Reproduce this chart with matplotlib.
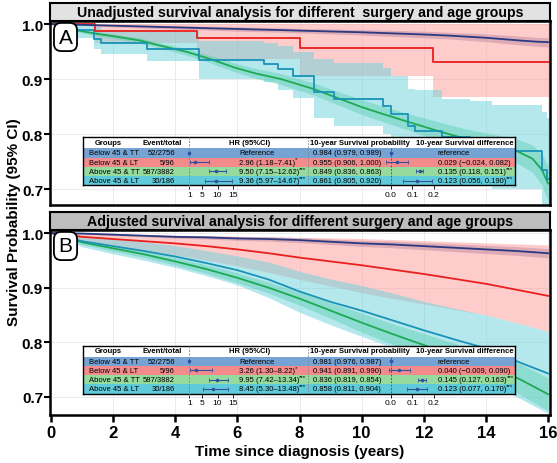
import matplotlib
matplotlib.use("Agg")
import matplotlib.pyplot as plt
import numpy as np

plt.rcParams['font.family'] = ['Liberation Sans', 'DejaVu Sans']

# ---------------- data ----------------
groups = ["Below 45 & TT", "Below 45 & LT", "Above 45 & TT", "Above 45 & LT"]
events = ["52/2756", "5/96", "587/3882", "30/186"]
line_colors = ["#2B3A80", "#E8201E", "#1DAA52", "#1A93B8"]
fill_colors = ["#7A7AA8", "#FF9A9A", "#3CC47A", "#6AD3DC"]
fill_alpha = [0.5, 0.5, 0.4, 0.5]
row_colors = ["#74A3D4", "#F38B8C", "#94DB9D", "#5FCAD9"]

# panel A: unadjusted Kaplan-Meier
navy_a_t = [0, 2, 4, 6, 7.4, 8, 10, 12, 12.8, 14, 15.1, 15.6, 16]
navy_a_s = [1.0, 0.997, 0.994, 0.991, 0.989, 0.988, 0.985, 0.981, 0.979, 0.975, 0.970, 0.968, 0.967]
navy_a_lo = [1.0, 0.995, 0.991, 0.987, 0.985, 0.984, 0.980, 0.975, 0.973, 0.968, 0.962, 0.960, 0.958]
navy_a_hi = [1.0, 0.999, 0.997, 0.995, 0.993, 0.992, 0.990, 0.987, 0.985, 0.982, 0.978, 0.976, 0.975]

red_a_t = [0, 1.42, 4.7, 8.03, 12.3, 16.1]
red_a_s = [1.0, 0.988, 0.974, 0.956, 0.931, 0.931]
red_a_lo = [1.0, 0.965, 0.936, 0.906, 0.867, 0.867]
red_a_hi = [1.0, 1.0, 1.0, 1.0, 1.0, 1.0]

green_a_t = [0, 0.5, 0.9, 1.5, 2.0, 2.87, 3.5, 4.4, 5.2, 5.9, 6.6, 7.4, 8.45, 9.2, 10.0,
             10.6, 11.5, 12.55, 13.3, 14.0, 15.0, 15.5, 15.8, 16.0]
green_a_s = [1.0, 0.995, 0.988, 0.982, 0.978, 0.970, 0.961, 0.949, 0.935, 0.921, 0.910, 0.900,
             0.882, 0.866, 0.849, 0.838, 0.822, 0.804, 0.792, 0.783, 0.769, 0.755, 0.735, 0.710]
green_a_ci = [0.0, 0.002, 0.003, 0.004, 0.004, 0.005, 0.005, 0.006, 0.007, 0.008, 0.009, 0.010,
              0.011, 0.012, 0.0135, 0.014, 0.015, 0.017, 0.018, 0.019, 0.022, 0.025, 0.028, 0.032]

teal_a_t = [0, 0.8, 1.4, 1.6, 3.1, 4.75, 6.85, 7.3, 7.8, 8.45, 9.1, 10.7, 10.95, 11.5, 11.7,
            12.6, 13.5, 14.2, 15.8, 15.95, 16.1]
teal_a_s = [1.0, 0.99, 0.973, 0.965, 0.955, 0.935, 0.927, 0.918, 0.905, 0.876, 0.864, 0.851,
            0.836, 0.815, 0.805, 0.795, 0.783, 0.769, 0.735, 0.718, 0.718]
teal_a_lo = [1.0, 0.975, 0.955, 0.945, 0.933, 0.90, 0.895, 0.88, 0.865, 0.83, 0.815, 0.80,
             0.78, 0.76, 0.75, 0.74, 0.72, 0.70, 0.66, 0.64, 0.64]
teal_a_hi = [1.0, 1.0, 0.995, 0.99, 0.985, 0.97, 0.965, 0.96, 0.95, 0.936, 0.93, 0.92,
             0.906, 0.882, 0.88, 0.864, 0.86, 0.852, 0.84, 0.83, 0.83]

# panel B: adjusted curves
time_b = [0, 1, 2, 3, 4, 5, 6, 7, 8, 9, 10, 11, 12, 13, 14, 15, 16]
navy_b_s = [1.0, 0.999, 0.997, 0.995, 0.993, 0.992, 0.990, 0.989, 0.987, 0.984, 0.981, 0.979,
            0.976, 0.973, 0.970, 0.967, 0.963]
navy_b_ci = [0.0, 0.001, 0.0015, 0.002, 0.0025, 0.003, 0.0035, 0.004, 0.0045, 0.005, 0.0055,
             0.006, 0.0065, 0.007, 0.0075, 0.008, 0.0085]
red_b_s = [1.0, 0.993, 0.989, 0.985, 0.981, 0.976, 0.970, 0.963, 0.955, 0.948, 0.941, 0.933,
           0.925, 0.916, 0.907, 0.896, 0.885]
red_b_lo = [1.0, 0.985, 0.975, 0.967, 0.960, 0.950, 0.940, 0.928, 0.915, 0.903, 0.891, 0.880,
            0.870, 0.860, 0.850, 0.835, 0.820]
red_b_hi = [1.0, 0.999, 0.998, 0.997, 0.996, 0.995, 0.994, 0.993, 0.992, 0.991, 0.990, 0.988,
            0.986, 0.984, 0.982, 0.980, 0.978]
green_b_s = [1.0, 0.983, 0.972, 0.961, 0.948, 0.934, 0.918, 0.900, 0.880, 0.858, 0.836, 0.815,
             0.795, 0.775, 0.755, 0.735, 0.705]
green_b_ci = [0.0, 0.004, 0.005, 0.006, 0.007, 0.008, 0.009, 0.010, 0.012, 0.014, 0.0175,
              0.019, 0.021, 0.023, 0.025, 0.028, 0.030]
teal_b_s = [1.0, 0.985, 0.976, 0.967, 0.957, 0.945, 0.932, 0.915, 0.893, 0.874, 0.858, 0.840,
            0.822, 0.805, 0.789, 0.765, 0.743]
teal_b_lo = [1.0, 0.975, 0.962, 0.950, 0.937, 0.922, 0.905, 0.882, 0.855, 0.832, 0.811, 0.790,
             0.770, 0.748, 0.725, 0.700, 0.670]
teal_b_hi = [1.0, 0.995, 0.990, 0.984, 0.977, 0.968, 0.958, 0.947, 0.930, 0.916, 0.904, 0.890,
             0.875, 0.862, 0.850, 0.835, 0.820]

# table values
hr_a = [1.0, 2.96, 9.50, 9.36]
hr_lo_a = [1.0, 1.18, 7.15, 5.97]
hr_hi_a = [1.0, 7.41, 12.62, 14.67]
prob_a = [0.984, 0.955, 0.849, 0.861]
prob_lo_a = [0.979, 0.906, 0.836, 0.805]
prob_hi_a = [0.989, 1.000, 0.863, 0.920]
diff_a = [0.0, 0.029, 0.135, 0.123]
diff_lo_a = [0.0, -0.024, 0.118, 0.056]
diff_hi_a = [0.0, 0.082, 0.151, 0.190]

hr_b = [1.0, 3.26, 9.95, 8.45]
hr_lo_b = [1.0, 1.30, 7.42, 5.30]
hr_hi_b = [1.0, 8.22, 13.34, 13.48]
prob_b = [0.981, 0.941, 0.836, 0.858]
prob_lo_b = [0.976, 0.891, 0.819, 0.811]
prob_hi_b = [0.987, 0.990, 0.854, 0.904]
diff_b = [0.0, 0.040, 0.145, 0.123]
diff_lo_b = [0.0, -0.009, 0.127, 0.077]
diff_hi_b = [0.0, 0.090, 0.163, 0.170]

hr_sig = ["", "*", "***", "***"]
diff_sig = ["", "", "***", "***"]

# ---------------- figure ----------------
W, H = 557, 464
fig = plt.figure(figsize=(W / 100, H / 100), dpi=100)


def px_axes(x0, y0, x1, y1):
    return fig.add_axes([x0 / W, 1 - y1 / H, (x1 - x0) / W, (y1 - y0) / H])


def style_main(ax, ylim, show_x):
    ax.set_xlim(-0.03, 16.06)
    ax.set_ylim(*ylim)
    ax.set_xticks(np.arange(0, 17, 2))
    ax.set_yticks([0.7, 0.8, 0.9, 1.0])
    ax.set_yticklabels(["0.7", "0.8", "0.9", "1.0"], fontsize=11, fontweight='bold')
    ax.grid(color='#EBEBEB', lw=0.7, zorder=0)
    ax.set_axisbelow(True)
    for s in ax.spines.values():
        s.set_linewidth(1.8)
    ax.tick_params(axis='y', length=4, width=1.5, pad=1)
    if show_x:
        ax.tick_params(axis='x', length=5, width=1.8, pad=2)
        ax.set_xticklabels([str(v) for v in range(0, 17, 2)], fontsize=12, fontweight='bold')
    else:
        ax.tick_params(axis='x', length=0, labelbottom=False)


def strip(y0, y1, title, color):
    s = px_axes(50, y0, 550, y1)
    s.set_facecolor(color)
    s.set_xticks([])
    s.set_yticks([])
    for sp in s.spines.values():
        sp.set_linewidth(1.5)
    s.text(0.5, 0.5, title, ha='center', va='center', fontsize=10.2, fontweight='bold',
           transform=s.transAxes)


def fmt_diff(v, lo, hi):
    return f"{v:.3f} ({lo:.3f}, {hi:.3f})".replace('-', '\u2212')


def with_sig(ax, x, y, txt, sig, fs):
    t = ax.text(x, y, txt, ha='left', va='center', fontsize=fs, zorder=3)
    if sig:
        ax.annotate(sig, xy=(1.0, 0.95), xycoords=t, ha='left', va='center',
                    fontsize=fs * 0.8, zorder=3)


def draw_table(y_top, hr, hr_lo, hr_hi, prob, prob_lo, prob_hi, diff, diff_lo, diff_hi):
    x0, x1 = 83, 515
    head_h, row_h = 11, 9.25
    y_bot = y_top + head_h + 4 * row_h
    centers = [y_top + head_h + (i + 0.5) * row_h for i in range(4)]

    tb = px_axes(x0, y_top, x1, y_bot)
    tb.set_xlim(x0, x1)
    tb.set_ylim(y_bot, y_top)
    tb.set_facecolor('white')
    tb.set_xticks([])
    tb.set_yticks([])
    for sp in tb.spines.values():
        sp.set_linewidth(1.0)
    tb.barh(centers, x1 - x0, left=x0, height=row_h, color=row_colors, zorder=1)
    hc = y_top + head_h / 2
    fs = 5.5
    tb.text(108, hc, "Groups", ha='center', va='center', fontsize=fs, fontweight='bold')
    tb.text(162, hc, "Event/total", ha='center', va='center', fontsize=fs, fontweight='bold')
    tb.text(250, hc, "HR (95%CI)", ha='center', va='center', fontsize=fs, fontweight='bold')
    tb.text(360, hc, "10-year Survival probability", ha='center', va='center', fontsize=fs,
            fontweight='bold')
    tb.text(465, hc, "10-year Survival difference", ha='center', va='center', fontsize=fs,
            fontweight='bold')
    for i in range(4):
        yc = centers[i]
        tb.text(89, yc, groups[i], ha='left', va='center', fontsize=fs, zorder=3)
        tb.text(175, yc, events[i], ha='right', va='center', fontsize=fs, zorder=3)
        if i == 0:
            hr_txt = "Reference"
            d_txt = "reference"
        else:
            hr_txt = f"{hr[i]:.2f} ({hr_lo[i]:.2f}\u2013{hr_hi[i]:.2f})"
            d_txt = fmt_diff(diff[i], diff_lo[i], diff_hi[i])
        with_sig(tb, 239, yc, hr_txt, hr_sig[i], fs)
        tb.text(313, yc, f"{prob[i]:.3f} ({prob_lo[i]:.3f}, {prob_hi[i]:.3f})", ha='left',
                va='center', fontsize=fs, zorder=3)
        with_sig(tb, 438, yc, d_txt, diff_sig[i], fs)
    tb.plot([308, 308], [y_top, y_bot], ls=(0, (1.5, 1.5)), color='#888888', lw=0.7, zorder=2)

    # forest for hazard ratios
    f1_px0, f1_px1, one_px, px_per = 184, 238, 189.3, 3.14
    fa = px_axes(f1_px0, y_top, f1_px1, y_bot)
    fa.set_xlim(1 + (f1_px0 - one_px) / px_per, 1 + (f1_px1 - one_px) / px_per)
    fa.set_ylim(y_bot, y_top)
    fa.patch.set_alpha(0)
    for sp in fa.spines.values():
        sp.set_visible(False)
    fa.set_yticks([])
    fa.set_xticks([1, 5, 10, 15])
    fa.tick_params(axis='x', length=3, width=0.6, labelsize=6, pad=1)
    fa.plot([1, 1], [y_top, y_bot + 3], ls=(0, (2, 1.5)), color='#888888', lw=0.7,
            clip_on=False)
    hr_arr = np.array(hr)
    fa.errorbar(hr_arr, centers, xerr=[hr_arr - np.array(hr_lo), np.array(hr_hi) - hr_arr],
                fmt='o', ms=1.6, color='#33529B', elinewidth=0.8, capsize=1.3, capthick=0.6)

    # forest for survival differences
    f2_px0, f2_px1, zero_px, px_per2 = 380, 437, 390.8, 215
    fd = px_axes(f2_px0, y_top, f2_px1, y_bot)
    fd.set_xlim((f2_px0 - zero_px) / px_per2, (f2_px1 - zero_px) / px_per2)
    fd.set_ylim(y_bot, y_top)
    fd.patch.set_alpha(0)
    for sp in fd.spines.values():
        sp.set_visible(False)
    fd.set_yticks([])
    fd.set_xticks([0.0, 0.1, 0.2])
    fd.set_xticklabels(["0.0", "0.1", "0.2"])
    fd.tick_params(axis='x', length=3, width=0.6, labelsize=6, pad=1)
    fd.plot([0, 0], [y_top + head_h, y_bot], ls=(0, (2, 1.5)), color='#E8201E', lw=0.7)
    d_arr = np.array(diff)
    fd.errorbar(d_arr, centers, xerr=[d_arr - np.array(diff_lo), np.array(diff_hi) - d_arr],
                fmt='o', ms=1.6, color='#33529B', elinewidth=0.8, capsize=1.3, capthick=0.6)


def panel_label(x, y, letter):
    fig.text(x / W, 1 - y / H, letter, ha='center', va='center', fontsize=15,
             bbox=dict(boxstyle='round,pad=0.22,rounding_size=0.35', fc='white', ec='black', lw=1.3))


# ---------------- panel A ----------------
ax_a = px_axes(50, 22, 550, 206)
style_main(ax_a, (0.671, 1.0055), False)
ax_a.fill_between(navy_a_t, navy_a_lo, navy_a_hi, color=fill_colors[0], alpha=fill_alpha[0], lw=0)
ax_a.fill_between(red_a_t, red_a_lo, red_a_hi, step='post', color=fill_colors[1],
                  alpha=fill_alpha[1], lw=0)
ga_s = np.array(green_a_s)
ga_ci = np.array(green_a_ci)
ax_a.fill_between(green_a_t, ga_s - ga_ci, ga_s + ga_ci, color=fill_colors[2],
                  alpha=fill_alpha[2], lw=0)
ax_a.fill_between(teal_a_t, teal_a_lo, teal_a_hi, step='post', color=fill_colors[3],
                  alpha=fill_alpha[3], lw=0)
ax_a.plot(green_a_t, green_a_s, color=line_colors[2], lw=1.3)
ax_a.plot(teal_a_t, teal_a_s, color=line_colors[3], lw=1.3, drawstyle='steps-post')
ax_a.plot(red_a_t, red_a_s, color=line_colors[1], lw=1.3, drawstyle='steps-post')
ax_a.plot(navy_a_t, navy_a_s, color=line_colors[0], lw=1.3)
strip(4, 22, "Unadjusted survival analysis for different  surgery and age groups", '#E2E2E2')
panel_label(65.5, 38, "A")
draw_table(138.3, hr_a, hr_lo_a, hr_hi_a, prob_a, prob_lo_a, prob_hi_a,
           diff_a, diff_lo_a, diff_hi_a)

# ---------------- panel B ----------------
ax_b = px_axes(50, 231, 550, 416)
style_main(ax_b, (0.667, 1.0055), True)
nb_s = np.array(navy_b_s)
nb_ci = np.array(navy_b_ci)
gb_s = np.array(green_b_s)
gb_ci = np.array(green_b_ci)
ax_b.fill_between(time_b, nb_s - nb_ci, nb_s + nb_ci, color=fill_colors[0], alpha=fill_alpha[0], lw=0)
ax_b.fill_between(time_b, red_b_lo, red_b_hi, color=fill_colors[1], alpha=fill_alpha[1], lw=0)
ax_b.fill_between(time_b, gb_s - gb_ci, gb_s + gb_ci, color=fill_colors[2], alpha=fill_alpha[2], lw=0)
ax_b.fill_between(time_b, teal_b_lo, teal_b_hi, color=fill_colors[3], alpha=fill_alpha[3], lw=0)
ax_b.plot(time_b, green_b_s, color=line_colors[2], lw=1.3)
ax_b.plot(time_b, teal_b_s, color=line_colors[3], lw=1.3)
ax_b.plot(time_b, red_b_s, color=line_colors[1], lw=1.3)
ax_b.plot(time_b, navy_b_s, color=line_colors[0], lw=1.3)
strip(213, 231, "Adjusted survival analysis for different surgery and age groups", '#BDBDBD')
panel_label(65.5, 247, "B")
draw_table(346.5, hr_b, hr_lo_b, hr_hi_b, prob_b, prob_lo_b, prob_hi_b,
           diff_b, diff_lo_b, diff_hi_b)

fig.text(14 / W, 1 - 222 / H, "Survival Probability (95% CI)", rotation=90, ha='center',
         va='center', fontsize=11, fontweight='bold')
fig.text(300 / W, 1 - 452 / H, "Time since diagnosis (years)", ha='center', va='center',
         fontsize=11, fontweight='bold')

fig.savefig("out.png", dpi=100)
